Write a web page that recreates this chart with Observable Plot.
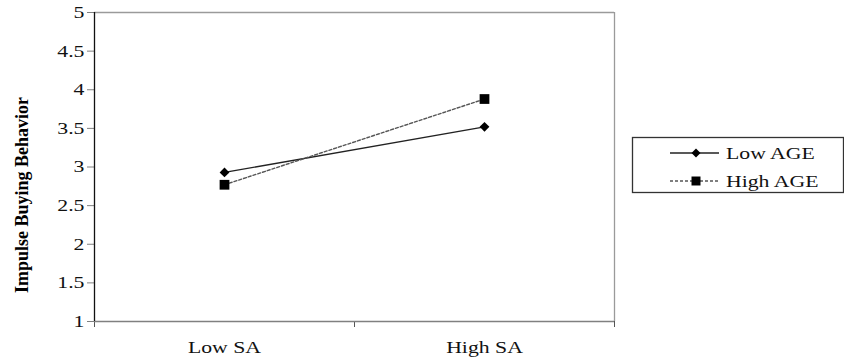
<!DOCTYPE html>
<html>
<head>
<meta charset="utf-8">
<script src="https://cdn.jsdelivr.net/npm/d3@7"></script>
<script src="https://cdn.jsdelivr.net/npm/@observablehq/plot@0.6"></script>
<style>
  html, body { margin: 0; padding: 0; background: #fff; }
  #wrap { position: relative; width: 844px; height: 360px; }
  #legend { position: absolute; left: 0; top: 0; }
  svg text { font-family: "Liberation Serif", "Times New Roman", serif !important; }
</style>
</head>
<body>
<div id="wrap"></div>
<script>
// ---- data ----
const categories = ["Low SA", "High SA"];
const seriesNames = ["Low AGE", "High AGE"];
const lowAge = [2.93, 3.52];
const highAge = [2.77, 3.88];
const yTicks = [1, 1.5, 2, 2.5, 3, 3.5, 4, 4.5, 5];
const xBoundaries = [0, 1, 2];
const yLabel = "Impulse Buying Behavior";

const seriesValues = [lowAge, highAge];
const rows = [];
seriesNames.forEach((s, si) => {
  categories.forEach((c, ci) => {
    rows.push({series: s, category: c, pos: ci + 0.5, value: seriesValues[si][ci]});
  });
});
const seriesStyle = {
  "Low AGE": {stroke: "#222", dash: null, width: 1.3, symbol: "diamond2", r: 4.4},
  "High AGE": {stroke: "#555", dash: "3,2", width: 1.4, symbol: "square", r: 5.5}
};

const font = '"Liberation Serif", "Times New Roman", serif';

const marks = [
  Plot.ruleY([5], {stroke: "#9a9a9a", strokeWidth: 1.3}),
  Plot.ruleX([2], {stroke: "#9a9a9a", strokeWidth: 1.3}),
  Plot.axisY({ticks: yTicks, tickSize: 7, tickPadding: 3, stroke: "#808080", fill: "#111",
    fontSize: 17, label: null, tickFormat: d => String(d)}),
  Plot.axisX({ticks: xBoundaries, tickSize: 6, stroke: "#555", tickFormat: () => "", label: null}),
  Plot.axisX({ticks: categories.map((c, i) => i + 0.5), tickSize: 0, tickPadding: 19,
    fontSize: 17, fill: "#111", label: null, tickFormat: d => categories[Math.floor(d)]}),
  Plot.ruleY([1], {stroke: "#808080", strokeWidth: 1.5}),
  Plot.ruleX([0], {stroke: "#111", strokeWidth: 1.3}),
  Plot.text([yLabel], {frameAnchor: "left", textAnchor: "middle", dx: -72, dy: 28, rotate: -90,
    fontSize: 18, fontWeight: "bold", fill: "#000", text: d => d})
];
seriesNames.forEach(s => {
  const st = seriesStyle[s];
  const data = rows.filter(d => d.series === s);
  marks.push(Plot.line(data, {x: "pos", y: "value", stroke: st.stroke, strokeWidth: st.width,
    strokeDasharray: st.dash}));
  marks.push(Plot.dot(data, {x: "pos", y: "value", symbol: () => st.symbol, r: st.r, fill: "#000", stroke: "none"}));
});

const chart = Plot.plot({
  width: 844,
  height: 360,
  marginLeft: 94,
  marginRight: 230,
  marginTop: 12,
  marginBottom: 39,
  style: {fontFamily: font, background: "#fff", overflow: "visible"},
  x: {type: "linear", domain: [0, 2], axis: null},
  y: {domain: [1, 5], axis: null},
  symbol: {type: "identity"},
  marks
});
document.getElementById("wrap").appendChild(chart);

// widen horizontal texts to match the reference's wide serif lettering
d3.select(chart).selectAll("text").each(function () {
  this.style.fontFamily = font;
  const t = this.getAttribute("transform") || "";
  if (!t.includes("rotate")) {
    this.setAttribute("transform", t + " scale(1.28,1)");
  }
});

// ---- legend ----
const lg = d3.select("#wrap").append("svg")
  .attr("id", "legend")
  .attr("width", 844).attr("height", 360)
  .style("pointer-events", "none");
lg.append("rect").attr("x", 632.5).attr("y", 137.5).attr("width", 211).attr("height", 55)
  .attr("fill", "none").attr("stroke", "#333").attr("stroke-width", 1.3);
seriesNames.forEach((s, i) => {
  const st = seriesStyle[s];
  const y = 153 + i * 28;
  lg.append("line").attr("x1", 670).attr("x2", 719).attr("y1", y).attr("y2", y)
    .attr("stroke", st.stroke).attr("stroke-width", st.width)
    .attr("stroke-dasharray", st.dash);
  const sym = st.symbol === "square" ? d3.symbolSquare : {
    draw(ctx, size) { const r = Math.sqrt(size) * 0.62625; ctx.moveTo(0, -r); ctx.lineTo(r, 0); ctx.lineTo(0, r); ctx.lineTo(-r, 0); ctx.closePath(); }
  };
  lg.append("path").attr("d", d3.symbol(sym, Math.PI * st.r * st.r * 0.85)())
    .attr("transform", `translate(696,${y})`).attr("fill", "#000");
  lg.append("text").attr("transform", `translate(726,${y}) scale(1.28,1)`)
    .attr("dy", "0.35em").attr("font-size", 17).attr("fill", "#111")
    .style("font-family", font).text(s);
});
</script>
</body>
</html>
